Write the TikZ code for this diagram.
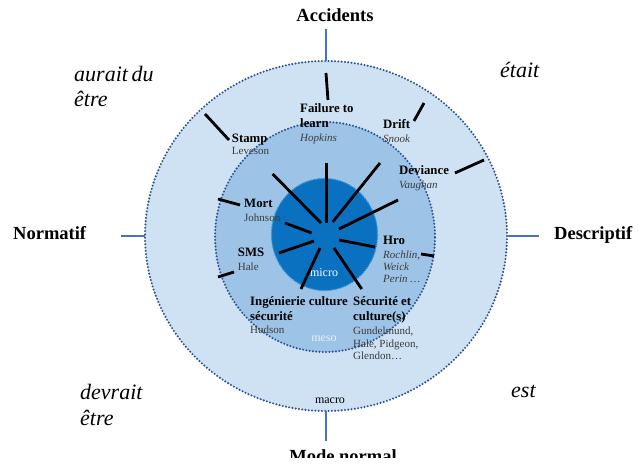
\documentclass[tikz,border=0pt]{standalone}
\usepackage{fontspec}
\setmainfont{Liberation Serif}
\usepackage{xcolor}
\usetikzlibrary{shapes.geometric}
\definecolor{macroblue}{RGB}{207,226,243}
\definecolor{mesoblue}{RGB}{157,195,230}
\definecolor{microblue}{RGB}{10,112,192}
\definecolor{rimblue}{RGB}{46,84,150}
\definecolor{axisblue}{RGB}{68,114,196}
\definecolor{whocol}{RGB}{60,60,60}

\begin{document}
\begin{tikzpicture}[x=1pt,y=-1pt,
  ring/.style={ellipse,inner sep=0pt,outer sep=0pt,line width=2.3pt,line cap=round,dash pattern=on 0pt off 3.3pt},
  spoke/.style={line width=2.8pt},
  axisline/.style={axisblue,line width=2pt},
  pole/.style={font=\fontsize{18.5}{20}\selectfont\bfseries,inner sep=0pt},
  mood/.style={font=\fontsize{22}{25.5}\selectfont\itshape,align=left,anchor=base west,inner sep=0pt},
  lab/.style={font=\fontsize{12.8}{15}\selectfont\bfseries,align=left,anchor=base west,inner sep=0pt},
  who/.style={font=\fontsize{11}{12.8}\selectfont,text=whocol,align=left,anchor=base west,inner sep=0pt},
  whoit/.style={who,font=\fontsize{11}{12.3}\selectfont\itshape},
  level/.style={font=\fontsize{12}{12}\selectfont,anchor=base,inner sep=0pt}]
  \useasboundingbox (0,0) rectangle (638,473);
  % the three levels
  \node[ring,fill=macroblue,draw=rimblue,minimum width=362pt,minimum height=350pt] (macro) at (326,236) {};
  \node[ring,fill=mesoblue,draw=rimblue,minimum width=220pt,minimum height=230pt] (meso) at (325,237) {};
  \node[ring,fill=microblue,draw=microblue!80!white,line width=1.8pt,dash pattern=on 0pt off 2.6pt,minimum width=106pt,minimum height=112pt] (micro) at (324.5,234.5) {};
  \node[level,text=white] at (324,277) {micro};
  \node[level,text=mesoblue!25!white] at (324,341.7) {meso};
  \node[level] at (330,403) {macro};
  % spokes
  \foreach \xa/\ya/\xb/\yb in {326.7/163/326.7/223, 272.7/174/321/223, 380/163/332.7/222,
      398/200/339/229, 285/223/311.7/233, 279/253/314/241, 301/289/320/248,
      361.7/289/334/248, 339/240/375/247,
      326/73/328/100, 205/114/229/140, 424/103/414/121, 484/160/455/173,
      218/199/240/205, 218/277/234/272, 421/254/434/256}
    \draw[spoke] (\xa,\ya) -- (\xb,\yb);
  % poles
  \node[pole,anchor=base] (acc) at (335,22) {Accidents};
  \node[pole,anchor=base west] (norm) at (13,239.3) {Normatif};
  \node[pole,anchor=base west] (desc) at (554,239.3) {Descriptif};
  \begin{scope}
    \clip (0,0) rectangle (638,457);
    \node[pole,anchor=base] (mode) at (343,462) {Mode normal};
  \end{scope}
  \draw[axisline,shorten >=7pt] (macro.north) -- (macro.north |- acc.south);
  \draw[axisline,shorten >=8pt] (macro.south) -- (macro.south |- mode.north);
  \draw[axisline,shorten >=35pt] (macro.west) -- (macro.west -| norm.east);
  \draw[axisline,shorten >=15pt] (macro.east) -- (macro.east -| desc.west);
  % multi-line nodes sit on their last line
  \node[mood] (aurait) at (74,107) {aurait\,du\\être};
  \node[mood] (etait) at (500,78) {était};
  \node[mood] (devrait) at (80,425) {devrait\\être};
  \node[mood] (est) at (511,398) {est};
  % approaches
  \node[lab] (fail) at (300,128) {Failure to\\learn};
  \node[whoit] at (300,141.7) {Hopkins};
  \node[lab] (stamp) at (231.7,142.3) {Stamp};
  \node[who] at (231.7,155) {Leveson};
  \node[lab] (drift) at (383,129) {Drift};
  \node[whoit] at (383,143) {Snook};
  \node[lab] (dev) at (399,175) {Deviance};
  \node[whoit] at (399,188.5) {Vaughan};
  \node[lab] (mort) at (244,208) {Mort};
  \node[who] at (244,222) {Johnson};
  \node[lab] (sms) at (237.7,256.7) {SMS};
  \node[who] at (237.7,270.7) {Hale};
  \node[lab] (hro) at (383,245) {Hro};
  \node[whoit] at (383,283) {Rochlin,\\Weick\\Perin \ldots};
  \node[lab] (inge) at (250,320.7) {Ingénierie culture\\sécurité};
  \node[who] at (250,334) {Hudson};
  \node[lab] (secu) at (353,320.7) {Sécurité et\\culture(s)};
  \node[who] at (353,360) {Gundelmund,\\Hale, Pidgeon,\\Glendon\ldots};
\end{tikzpicture}
\end{document}
